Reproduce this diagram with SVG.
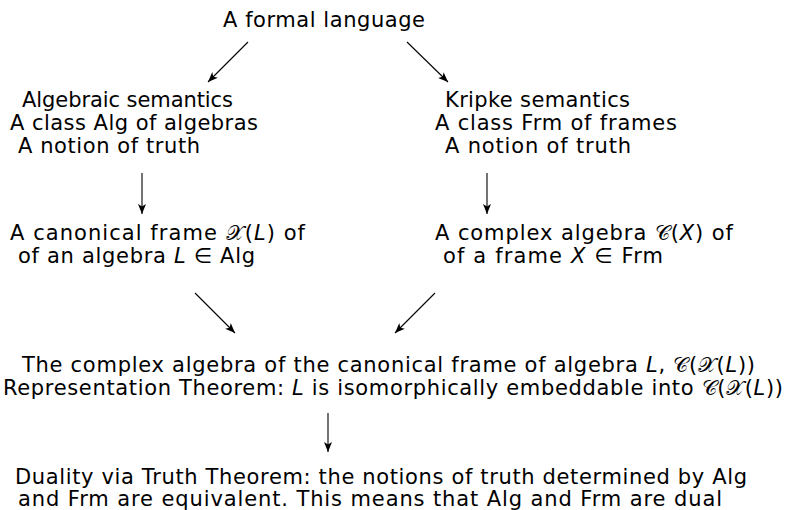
<svg xmlns="http://www.w3.org/2000/svg" width="800" height="510" viewBox="0 0 800 510">
<style>
text{font-family:"DejaVu Sans","Noto Sans",sans-serif;font-size:21px;fill:#000}
.m{font-style:italic}
.c{stroke:#000;stroke-width:1.1;fill:none}
</style>
<defs>
<marker id="ah" viewBox="0 0 10 8" markerWidth="10" markerHeight="8" refX="10" refY="4" orient="auto" markerUnits="userSpaceOnUse">
<path d="M0,0 L10,4 L0,8 L2.5,4 Z" fill="#000"/>
</marker>
</defs>
<rect width="800" height="510" fill="#fff"/>
<g id="n-lang"><text x="223" y="27" textLength="202" lengthAdjust="spacing">A formal language</text></g>
<g id="n-alg">
<text x="22" y="107" textLength="211" lengthAdjust="spacing">Algebraic semantics</text>
<text x="10" y="130" textLength="248" lengthAdjust="spacing">A class Alg of algebras</text>
<text x="18" y="153" textLength="182" lengthAdjust="spacing">A notion of truth</text>
</g>
<g id="n-kripke">
<text x="445" y="107" textLength="185" lengthAdjust="spacing">Kripke semantics</text>
<text x="435" y="130" textLength="242" lengthAdjust="spacing">A class Frm of frames</text>
<text x="445" y="153" textLength="186" lengthAdjust="spacing">A notion of truth</text>
</g>
<g id="n-canon">
<text x="10" y="240" textLength="295" lengthAdjust="spacing">A canonical frame 𝒳(<tspan class="m">L</tspan>) of</text>
<text x="18" y="263" textLength="237" lengthAdjust="spacing">of an algebra <tspan class="m">L</tspan> ∈ Alg</text>
</g>
<g id="n-complex">
<text x="435" y="240" textLength="298" lengthAdjust="spacing">A complex algebra 𝒞(<tspan class="m">X</tspan>) of</text>
<text x="443" y="263" textLength="220" lengthAdjust="spacing">of a frame <tspan class="m">X</tspan> ∈ Frm</text>
</g>
<g id="n-repr">
<text x="22" y="372" textLength="733" lengthAdjust="spacing">The complex algebra of the canonical frame of algebra <tspan class="m">L</tspan>, 𝒞(𝒳(<tspan class="m">L</tspan>))</text>
<text x="3" y="395" textLength="780" lengthAdjust="spacing">Representation Theorem: <tspan class="m">L</tspan> is isomorphically embeddable into 𝒞(𝒳(<tspan class="m">L</tspan>))</text>
</g>
<g id="n-duality">
<text x="15" y="484" textLength="732" lengthAdjust="spacing">Duality via Truth Theorem: the notions of truth determined by Alg</text>
<text x="18" y="506" textLength="704" lengthAdjust="spacing">and Frm are equivalent. This means that Alg and Frm are dual</text>
</g>
<g id="connectors">
<line class="c" x1="248" y1="42" x2="208" y2="82" marker-end="url(#ah)"/>
<line class="c" x1="407" y1="42" x2="448" y2="82" marker-end="url(#ah)"/>
<line class="c" x1="142" y1="173" x2="142" y2="214" marker-end="url(#ah)"/>
<line class="c" x1="487" y1="173" x2="487" y2="214" marker-end="url(#ah)"/>
<line class="c" x1="195" y1="293" x2="235" y2="333" marker-end="url(#ah)"/>
<line class="c" x1="435" y1="293" x2="395" y2="333" marker-end="url(#ah)"/>
<line class="c" x1="328" y1="413" x2="328" y2="452" marker-end="url(#ah)"/>
</g>
</svg>
